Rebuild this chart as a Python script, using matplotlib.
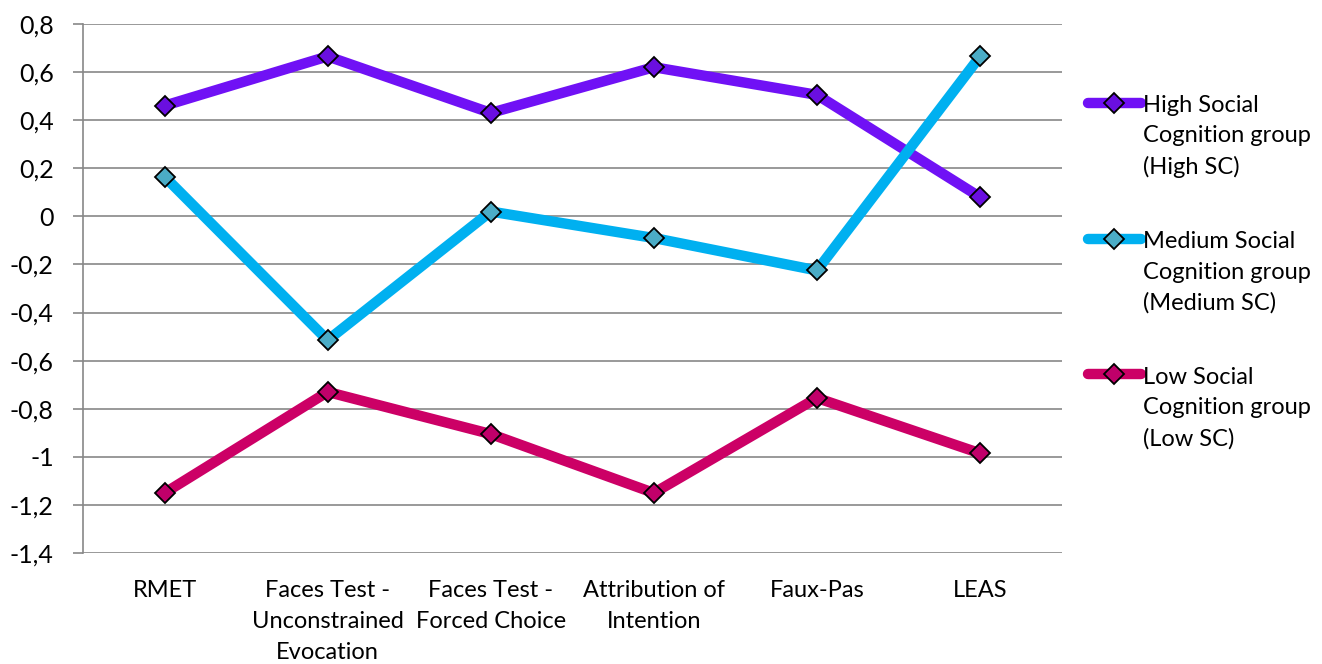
import numpy as np
import matplotlib
matplotlib.use('Agg')
import matplotlib.pyplot as plt
from matplotlib.legend_handler import HandlerLine2D
from matplotlib.ticker import FuncFormatter

plt.rcParams['font.family'] = ['Lato', 'DejaVu Sans']

# data
categories = ['RMET', 'Faces Test -\nUnconstrained\nEvocation', 'Faces Test -\nForced Choice',
              'Attribution of\nIntention', 'Faux-Pas', 'LEAS']
high_sc = [0.46, 0.665, 0.43, 0.62, 0.505, 0.08]
medium_sc = [0.165, -0.515, 0.02, -0.09, -0.225, 0.665]
low_sc = [-1.15, -0.73, -0.905, -1.15, -0.755, -0.985]

series_labels = ['High Social\nCognition group\n(High SC)',
                 'Medium Social\nCognition group\n(Medium SC)',
                 'Low Social\nCognition group\n(Low SC)']
line_colors = ['#7011F5', '#00B0F0', '#CC0066']
marker_colors = ['#6A0FE0', '#4BACC6', '#C0006A']


class FirstLineHandler(HandlerLine2D):
    # put the legend handle next to the first line of a 3-line label
    def create_artists(self, legend, orig_handle, xdescent, ydescent, width, height, fontsize, trans):
        arts = super().create_artists(legend, orig_handle, xdescent, ydescent, width, height, fontsize, trans)
        for a in arts:
            a.set_ydata(np.asarray(a.get_ydata()) + fontsize * 1.45)
        return arts


def fmt(v, pos):
    v = round(v, 1)
    if v == 0:
        return '0'
    return ('%g' % v).replace('.', ',')


fig = plt.figure(figsize=(13.22, 6.64), dpi=100)
ax = fig.add_axes([0.0628, 0.167, 0.803 - 0.0628, 0.964 - 0.167])

x = np.arange(len(categories))
handles = []
for vals, lc, mc, lab in zip([high_sc, medium_sc, low_sc], line_colors, marker_colors, series_labels):
    h, = ax.plot(x, vals, color=lc, lw=7.5, marker='D', ms=10, mfc=mc, mec='black', mew=1.3,
                 solid_capstyle='round', label=lab, zorder=3)
    handles.append(h)

ax.set_xlim(-0.5, len(categories) - 0.5)
ax.set_ylim(-1.4, 0.8)
ax.set_yticks(np.arange(-1.4, 0.81, 0.2))
ax.yaxis.set_major_formatter(FuncFormatter(fmt))
ax.set_xticks(x)
ax.set_xticklabels(categories, fontsize=17, linespacing=1.6)
ax.tick_params(axis='x', length=0, pad=19)
ax.tick_params(axis='y', labelsize=18, length=7, width=1.2, color='#878787', pad=14)
ax.grid(axis='y', color='#878787', lw=1.2)
ax.set_axisbelow(True)
for s in ['top', 'right', 'bottom']:
    ax.spines[s].set_visible(False)
ax.spines['left'].set_color('#878787')
ax.spines['left'].set_linewidth(1.2)

fig.legend(handles=handles, loc='upper left', bbox_to_anchor=(0.814, 0.875), frameon=False,
           fontsize=17, handlelength=2.25, handletextpad=0.1, labelspacing=2.25, borderpad=0,
           handler_map={h: FirstLineHandler() for h in handles})
for t in fig.legends[0].get_texts():
    t.set_linespacing(1.55)

fig.savefig('out.png', dpi=100)
